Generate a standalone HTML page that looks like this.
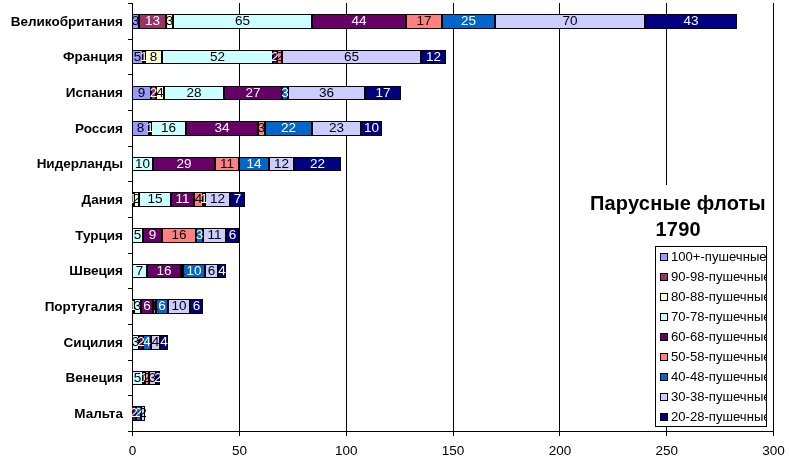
<!DOCTYPE html><html><head><meta charset="utf-8"><title>Парусные флоты 1790</title>
<style>html,body{margin:0;padding:0;background:#fff}svg{display:block}text{font-family:"Liberation Sans",Arial,sans-serif;font-size:13.5px}.b{font-weight:bold}.t{font-weight:bold;font-size:20px;letter-spacing:0.2px}</style></head><body>
<svg width="789" height="460" viewBox="0 0 789 460">
<rect width="789" height="460" fill="#fff"/>
<g stroke="#000" stroke-width="1" shape-rendering="crispEdges">
<line x1="239.5" y1="3" x2="239.5" y2="431"/>
<line x1="346.5" y1="3" x2="346.5" y2="431"/>
<line x1="453.5" y1="3" x2="453.5" y2="431"/>
<line x1="559.5" y1="3" x2="559.5" y2="431"/>
<line x1="666.5" y1="3" x2="666.5" y2="431"/>
<line x1="773.5" y1="3" x2="773.5" y2="431"/>
</g>
<g stroke="#000" stroke-width="1" shape-rendering="crispEdges">
<rect x="132.5" y="14.5" width="6" height="14" fill="#9999FF"/>
<rect x="139.5" y="14.5" width="26" height="14" fill="#993366"/>
<rect x="166.5" y="14.5" width="6" height="14" fill="#FFFFCC"/>
<rect x="173.5" y="14.5" width="138" height="14" fill="#CCFFFF"/>
<rect x="312.5" y="14.5" width="93" height="14" fill="#660066"/>
<rect x="406.5" y="14.5" width="35" height="14" fill="#FF8080"/>
<rect x="442.5" y="14.5" width="52" height="14" fill="#0066CC"/>
<rect x="495.5" y="14.5" width="149" height="14" fill="#CCCCFF"/>
<rect x="645.5" y="14.5" width="91" height="14" fill="#000080"/>
<rect x="132.5" y="50.5" width="10" height="13" fill="#9999FF"/>
<rect x="143.5" y="50.5" width="1" height="13" fill="#993366"/>
<rect x="145.5" y="50.5" width="16" height="13" fill="#FFFFCC"/>
<rect x="162.5" y="50.5" width="110" height="13" fill="#CCFFFF"/>
<rect x="273.5" y="50.5" width="3" height="13" fill="#660066"/>
<rect x="277.5" y="50.5" width="4" height="13" fill="#FF8080"/>
<rect x="282.5" y="50.5" width="138" height="13" fill="#CCCCFF"/>
<rect x="421.5" y="50.5" width="24" height="13" fill="#000080"/>
<rect x="132.5" y="86.5" width="18" height="13" fill="#9999FF"/>
<rect x="151.5" y="86.5" width="4" height="13" fill="#993366"/>
<rect x="156.5" y="86.5" width="7" height="13" fill="#FFFFCC"/>
<rect x="164.5" y="86.5" width="59" height="13" fill="#CCFFFF"/>
<rect x="224.5" y="86.5" width="57" height="13" fill="#660066"/>
<rect x="282.5" y="86.5" width="5" height="13" fill="#0066CC"/>
<rect x="288.5" y="86.5" width="76" height="13" fill="#CCCCFF"/>
<rect x="365.5" y="86.5" width="35" height="13" fill="#000080"/>
<rect x="132.5" y="121.5" width="16" height="14" fill="#9999FF"/>
<rect x="149.5" y="121.5" width="1" height="14" fill="#993366"/>
<rect x="151.5" y="121.5" width="34" height="14" fill="#CCFFFF"/>
<rect x="186.5" y="121.5" width="71" height="14" fill="#660066"/>
<rect x="258.5" y="121.5" width="6" height="14" fill="#FF8080"/>
<rect x="265.5" y="121.5" width="46" height="14" fill="#0066CC"/>
<rect x="312.5" y="121.5" width="48" height="14" fill="#CCCCFF"/>
<rect x="361.5" y="121.5" width="20" height="14" fill="#000080"/>
<rect x="132.5" y="157.5" width="20" height="13" fill="#CCFFFF"/>
<rect x="153.5" y="157.5" width="61" height="13" fill="#660066"/>
<rect x="215.5" y="157.5" width="23" height="13" fill="#FF8080"/>
<rect x="239.5" y="157.5" width="29" height="13" fill="#0066CC"/>
<rect x="269.5" y="157.5" width="24" height="13" fill="#CCCCFF"/>
<rect x="294.5" y="157.5" width="46" height="13" fill="#000080"/>
<rect x="132.5" y="192.5" width="1" height="14" fill="#993366"/>
<rect x="134.5" y="192.5" width="4" height="14" fill="#FFFFCC"/>
<rect x="139.5" y="192.5" width="31" height="14" fill="#CCFFFF"/>
<rect x="171.5" y="192.5" width="22" height="14" fill="#660066"/>
<rect x="194.5" y="192.5" width="8" height="14" fill="#FF8080"/>
<rect x="203.5" y="192.5" width="1" height="14" fill="#0066CC"/>
<rect x="205.5" y="192.5" width="24" height="14" fill="#CCCCFF"/>
<rect x="230.5" y="192.5" width="14" height="14" fill="#000080"/>
<rect x="132.5" y="228.5" width="10" height="14" fill="#CCFFFF"/>
<rect x="143.5" y="228.5" width="18" height="14" fill="#660066"/>
<rect x="162.5" y="228.5" width="33" height="14" fill="#FF8080"/>
<rect x="196.5" y="228.5" width="6" height="14" fill="#0066CC"/>
<rect x="203.5" y="228.5" width="22" height="14" fill="#CCCCFF"/>
<rect x="226.5" y="228.5" width="12" height="14" fill="#000080"/>
<rect x="132.5" y="264.5" width="14" height="13" fill="#CCFFFF"/>
<rect x="147.5" y="264.5" width="33" height="13" fill="#660066"/>
<rect x="181.5" y="264.5" width="1" height="13" fill="#FF8080"/>
<rect x="183.5" y="264.5" width="21" height="13" fill="#0066CC"/>
<rect x="205.5" y="264.5" width="12" height="13" fill="#CCCCFF"/>
<rect x="218.5" y="264.5" width="7" height="13" fill="#000080"/>
<rect x="132.5" y="299.5" width="1" height="14" fill="#993366"/>
<rect x="134.5" y="299.5" width="6" height="14" fill="#CCFFFF"/>
<rect x="141.5" y="299.5" width="11" height="14" fill="#660066"/>
<rect x="153.5" y="299.5" width="2" height="14" fill="#FF8080"/>
<rect x="156.5" y="299.5" width="11" height="14" fill="#0066CC"/>
<rect x="168.5" y="299.5" width="21" height="14" fill="#CCCCFF"/>
<rect x="190.5" y="299.5" width="12" height="14" fill="#000080"/>
<rect x="132.5" y="335.5" width="6" height="14" fill="#CCFFFF"/>
<rect x="139.5" y="335.5" width="3" height="14" fill="#660066"/>
<rect x="143.5" y="335.5" width="7" height="14" fill="#0066CC"/>
<rect x="151.5" y="335.5" width="8" height="14" fill="#CCCCFF"/>
<rect x="160.5" y="335.5" width="7" height="14" fill="#000080"/>
<rect x="132.5" y="371.5" width="10" height="13" fill="#CCFFFF"/>
<rect x="143.5" y="371.5" width="1" height="13" fill="#660066"/>
<rect x="145.5" y="371.5" width="3" height="13" fill="#FF8080"/>
<rect x="149.5" y="371.5" width="6" height="13" fill="#CCCCFF"/>
<rect x="156.5" y="371.5" width="3" height="13" fill="#000080"/>
<rect x="132.5" y="406.5" width="3" height="14" fill="#660066"/>
<rect x="136.5" y="406.5" width="4" height="14" fill="#0066CC"/>
<rect x="141.5" y="406.5" width="3" height="14" fill="#CCCCFF"/>
</g>
<g stroke="#000" stroke-width="1" shape-rendering="crispEdges">
<line x1="132.5" y1="3" x2="132.5" y2="436"/>
<line x1="128" y1="431.5" x2="774" y2="431.5"/>
<line x1="128" y1="3.5" x2="133" y2="3.5"/>
<line x1="128" y1="39.5" x2="133" y2="39.5"/>
<line x1="128" y1="74.5" x2="133" y2="74.5"/>
<line x1="128" y1="110.5" x2="133" y2="110.5"/>
<line x1="128" y1="146.5" x2="133" y2="146.5"/>
<line x1="128" y1="181.5" x2="133" y2="181.5"/>
<line x1="128" y1="217.5" x2="133" y2="217.5"/>
<line x1="128" y1="253.5" x2="133" y2="253.5"/>
<line x1="128" y1="288.5" x2="133" y2="288.5"/>
<line x1="128" y1="324.5" x2="133" y2="324.5"/>
<line x1="128" y1="360.5" x2="133" y2="360.5"/>
<line x1="128" y1="395.5" x2="133" y2="395.5"/>
<line x1="128" y1="431.5" x2="133" y2="431.5"/>
<line x1="132.5" y1="431" x2="132.5" y2="436"/>
<line x1="239.5" y1="431" x2="239.5" y2="436"/>
<line x1="346.5" y1="431" x2="346.5" y2="436"/>
<line x1="453.5" y1="431" x2="453.5" y2="436"/>
<line x1="559.5" y1="431" x2="559.5" y2="436"/>
<line x1="666.5" y1="431" x2="666.5" y2="436"/>
<line x1="773.5" y1="431" x2="773.5" y2="436"/>
</g>
<g text-anchor="middle">
<text x="135.5" y="25.1" fill="#000">3</text>
<text x="152.5" y="25.1" fill="#fff">13</text>
<text x="169.5" y="25.1" fill="#000">3</text>
<text x="242.5" y="25.1" fill="#000">65</text>
<text x="359.0" y="25.1" fill="#fff">44</text>
<text x="424.0" y="25.1" fill="#000">17</text>
<text x="468.5" y="25.1" fill="#fff">25</text>
<text x="570.0" y="25.1" fill="#000">70</text>
<text x="691.0" y="25.1" fill="#fff">43</text>
<text x="137.5" y="60.6" fill="#000">5</text>
<text x="144.0" y="60.6" fill="#fff">1</text>
<text x="153.5" y="60.6" fill="#000">8</text>
<text x="217.5" y="60.6" fill="#000">52</text>
<text x="275.0" y="60.6" fill="#fff">2</text>
<text x="279.5" y="60.6" fill="#000">2</text>
<text x="351.5" y="60.6" fill="#000">65</text>
<text x="433.5" y="60.6" fill="#fff">12</text>
<text x="141.5" y="96.6" fill="#000">9</text>
<text x="153.5" y="96.6" fill="#fff">2</text>
<text x="160.0" y="96.6" fill="#000">4</text>
<text x="194.0" y="96.6" fill="#000">28</text>
<text x="253.0" y="96.6" fill="#fff">27</text>
<text x="285.0" y="96.6" fill="#fff">3</text>
<text x="326.5" y="96.6" fill="#000">36</text>
<text x="383.0" y="96.6" fill="#fff">17</text>
<text x="140.5" y="132.1" fill="#000">8</text>
<text x="150.0" y="132.1" fill="#fff">1</text>
<text x="168.5" y="132.1" fill="#000">16</text>
<text x="222.0" y="132.1" fill="#fff">34</text>
<text x="261.5" y="132.1" fill="#000">3</text>
<text x="288.5" y="132.1" fill="#fff">22</text>
<text x="336.5" y="132.1" fill="#000">23</text>
<text x="371.5" y="132.1" fill="#fff">10</text>
<text x="142.5" y="167.6" fill="#000">10</text>
<text x="184.0" y="167.6" fill="#fff">29</text>
<text x="227.0" y="167.6" fill="#000">11</text>
<text x="254.0" y="167.6" fill="#fff">14</text>
<text x="281.5" y="167.6" fill="#000">12</text>
<text x="317.5" y="167.6" fill="#fff">22</text>
<text x="133.0" y="203.1" fill="#fff">1</text>
<text x="136.5" y="203.1" fill="#000">2</text>
<text x="155.0" y="203.1" fill="#000">15</text>
<text x="182.5" y="203.1" fill="#fff">11</text>
<text x="198.5" y="203.1" fill="#000">4</text>
<text x="204.0" y="203.1" fill="#fff">1</text>
<text x="217.5" y="203.1" fill="#000">12</text>
<text x="237.5" y="203.1" fill="#fff">7</text>
<text x="137.5" y="239.1" fill="#000">5</text>
<text x="152.5" y="239.1" fill="#fff">9</text>
<text x="179.0" y="239.1" fill="#000">16</text>
<text x="199.5" y="239.1" fill="#fff">3</text>
<text x="214.5" y="239.1" fill="#000">11</text>
<text x="232.5" y="239.1" fill="#fff">6</text>
<text x="139.5" y="274.6" fill="#000">7</text>
<text x="164.0" y="274.6" fill="#fff">16</text>
<text x="182.0" y="274.6" fill="#000">1</text>
<text x="194.0" y="274.6" fill="#fff">10</text>
<text x="211.5" y="274.6" fill="#000">6</text>
<text x="222.0" y="274.6" fill="#fff">4</text>
<text x="133.0" y="310.1" fill="#fff">1</text>
<text x="137.5" y="310.1" fill="#000">3</text>
<text x="147.0" y="310.1" fill="#fff">6</text>
<text x="154.5" y="310.1" fill="#000">1</text>
<text x="162.0" y="310.1" fill="#fff">6</text>
<text x="179.0" y="310.1" fill="#000">10</text>
<text x="196.5" y="310.1" fill="#fff">6</text>
<text x="135.5" y="346.1" fill="#000">3</text>
<text x="141.0" y="346.1" fill="#fff">2</text>
<text x="147.0" y="346.1" fill="#fff">4</text>
<text x="155.5" y="346.1" fill="#000">4</text>
<text x="164.0" y="346.1" fill="#fff">4</text>
<text x="137.5" y="381.6" fill="#000">5</text>
<text x="144.0" y="381.6" fill="#fff">1</text>
<text x="147.0" y="381.6" fill="#000">2</text>
<text x="152.5" y="381.6" fill="#000">3</text>
<text x="158.0" y="381.6" fill="#fff">2</text>
<text x="134.0" y="417.1" fill="#fff">2</text>
<text x="138.5" y="417.1" fill="#fff">2</text>
<text x="143.0" y="417.1" fill="#000">2</text>
</g>
<g text-anchor="end" class="b">
<text x="123" y="25.7">Великобритания</text>
<text x="123" y="61.4">Франция</text>
<text x="123" y="97.0">Испания</text>
<text x="123" y="132.7">Россия</text>
<text x="123" y="168.4">Нидерланды</text>
<text x="123" y="204.0">Дания</text>
<text x="123" y="239.7">Турция</text>
<text x="123" y="275.3">Швеция</text>
<text x="123" y="311.0">Португалия</text>
<text x="123" y="346.7">Сицилия</text>
<text x="123" y="382.3">Венеция</text>
<text x="123" y="418.0">Мальта</text>
</g>
<g text-anchor="middle">
<text x="132.6" y="454.7">0</text>
<text x="239.4" y="454.7">50</text>
<text x="346.3" y="454.7">100</text>
<text x="453.1" y="454.7">150</text>
<text x="559.9" y="454.7">200</text>
<text x="666.8" y="454.7">250</text>
<text x="773.6" y="454.7">300</text>
</g>
<rect x="588" y="185" width="180" height="61" fill="#fff"/>
<g text-anchor="middle" class="t"><text class="t" x="677.9" y="209.7">Парусные флоты</text><text class="t" x="678.2" y="235.5">1790</text></g>
<rect x="655.5" y="246.5" width="111" height="180" fill="#fff" stroke="#000" shape-rendering="crispEdges"/>
<svg x="656" y="247" width="110" height="179" viewBox="656 247 110 179">
<rect x="660.5" y="253.5" width="7" height="7" fill="#9999FF" stroke="#000" shape-rendering="crispEdges"/>
<text x="671" y="260.8" style="font-size:13.1px">100+-пушечные</text>
<rect x="660.5" y="273.5" width="7" height="7" fill="#993366" stroke="#000" shape-rendering="crispEdges"/>
<text x="671" y="280.8" style="font-size:13.1px">90-98-пушечные</text>
<rect x="660.5" y="293.5" width="7" height="7" fill="#FFFFCC" stroke="#000" shape-rendering="crispEdges"/>
<text x="671" y="300.8" style="font-size:13.1px">80-88-пушечные</text>
<rect x="660.5" y="313.5" width="7" height="7" fill="#CCFFFF" stroke="#000" shape-rendering="crispEdges"/>
<text x="671" y="320.8" style="font-size:13.1px">70-78-пушечные</text>
<rect x="660.5" y="333.5" width="7" height="7" fill="#660066" stroke="#000" shape-rendering="crispEdges"/>
<text x="671" y="340.8" style="font-size:13.1px">60-68-пушечные</text>
<rect x="660.5" y="353.5" width="7" height="7" fill="#FF8080" stroke="#000" shape-rendering="crispEdges"/>
<text x="671" y="360.8" style="font-size:13.1px">50-58-пушечные</text>
<rect x="660.5" y="373.5" width="7" height="7" fill="#0066CC" stroke="#000" shape-rendering="crispEdges"/>
<text x="671" y="380.8" style="font-size:13.1px">40-48-пушечные</text>
<rect x="660.5" y="393.5" width="7" height="7" fill="#CCCCFF" stroke="#000" shape-rendering="crispEdges"/>
<text x="671" y="400.8" style="font-size:13.1px">30-38-пушечные</text>
<rect x="660.5" y="413.5" width="7" height="7" fill="#000080" stroke="#000" shape-rendering="crispEdges"/>
<text x="671" y="420.8" style="font-size:13.1px">20-28-пушечные</text>
</svg>
</svg></body></html>
